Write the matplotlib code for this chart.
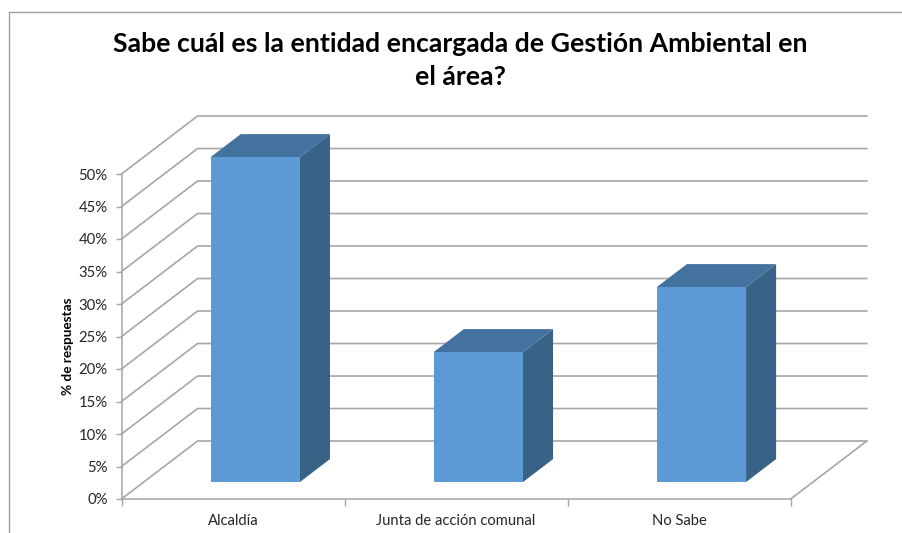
import matplotlib
matplotlib.use("Agg")
import matplotlib.pyplot as plt
from matplotlib.patches import Polygon

plt.rcParams["font.family"] = ["Lato", "DejaVu Sans"]

categories = ["Alcaldía", "Junta de acción comunal", "No Sabe"]
values = [50, 20, 30]
y_ticks = [0, 5, 10, 15, 20, 25, 30, 35, 40, 45, 50]
title = "Sabe cuál es la entidad encargada de Gestión Ambiental en\nel área?"
y_label = "% de respuestas"

W, H = 902, 533
GRID = "#a6a6a6"

# depth of the 3d box, in data units
depth_x = 0.341
depth_y = -8.92
bar_w = 0.4
d0, d1 = 0.293, 0.688


def proj(x, y, d):
    return (x + d * depth_x, y - d * depth_y)


fig = plt.figure(figsize=(W / 100, H / 100), dpi=100, facecolor="white")

# chart area border (only top and left show up)
fig.add_artist(plt.Line2D([8.5 / W, 8.5 / W], [0, 1 - 11.5 / H], color="#a0a0a0", lw=1))
fig.add_artist(plt.Line2D([8.5 / W, 1], [1 - 11.5 / H, 1 - 11.5 / H], color="#a0a0a0", lw=1))

ax = fig.add_axes([121.5 / W, 1 - 499 / H, (790.7 - 121.5) / W, 325 / H])
ax.set_xlim(0, 3)
ax.set_ylim(0, 50)
ax.patch.set_visible(False)

for s in ["top", "right"]:
    ax.spines[s].set_visible(False)
for s in ["left", "bottom"]:
    ax.spines[s].set_color(GRID)
    ax.spines[s].set_linewidth(1.1)

ax.set_yticks(y_ticks)
ax.set_yticklabels([f"{t}%" for t in y_ticks])
ax.set_xticks([0, 1, 2, 3])
ax.set_xticklabels([])
ax.set_xticks([0.5, 1.5, 2.5], minor=True)
ax.set_xticklabels(categories, minor=True)
ax.tick_params(axis="y", length=4, width=1, color=GRID, labelsize=10.7, labelcolor="#262626", pad=6)
ax.tick_params(axis="x", which="major", length=5, width=1, color=GRID)
ax.tick_params(axis="x", which="minor", length=0, labelsize=10.6, labelcolor="#262626", pad=11)
ax.set_ylabel(y_label, fontsize=9.8, fontweight="bold", color="black", labelpad=3, y=0.47)

# side wall and back wall lines
for t in y_ticks:
    bx, by = proj(0, t, 1)
    ex, ey = proj(3, t, 1)
    ax.plot([0, bx, ex], [t, by, ey], color=GRID, lw=1.2, clip_on=False, zorder=1)
bx, by = proj(3, 0, 1)
ax.plot([3, bx], [0, by], color=GRID, lw=1.2, clip_on=False, zorder=1)

# bars
for i, v in enumerate(values):
    x0 = i + 0.5 - bar_w / 2
    x1 = i + 0.5 + bar_w / 2
    front = [proj(x0, 0, d0), proj(x1, 0, d0), proj(x1, v, d0), proj(x0, v, d0)]
    top = [proj(x0, v, d0), proj(x1, v, d0), proj(x1, v, d1), proj(x0, v, d1)]
    side = [proj(x1, 0, d0), proj(x1, 0, d1), proj(x1, v, d1), proj(x1, v, d0)]
    ax.add_patch(Polygon(side, closed=True, fc="#396287", ec="none", clip_on=False, zorder=3))
    ax.add_patch(Polygon(top, closed=True, fc="#44729f", ec="none", clip_on=False, zorder=3))
    ax.add_patch(Polygon(front, closed=True, fc="#5b9ad5", ec="none", clip_on=False, zorder=4))

fig.text(460.5 / W, 1 - 60.5 / H, title, ha="center", va="center", fontsize=19.2,
         fontweight="bold", color="black", linespacing=1.42)

fig.savefig("out.png", dpi=100, facecolor="white")
